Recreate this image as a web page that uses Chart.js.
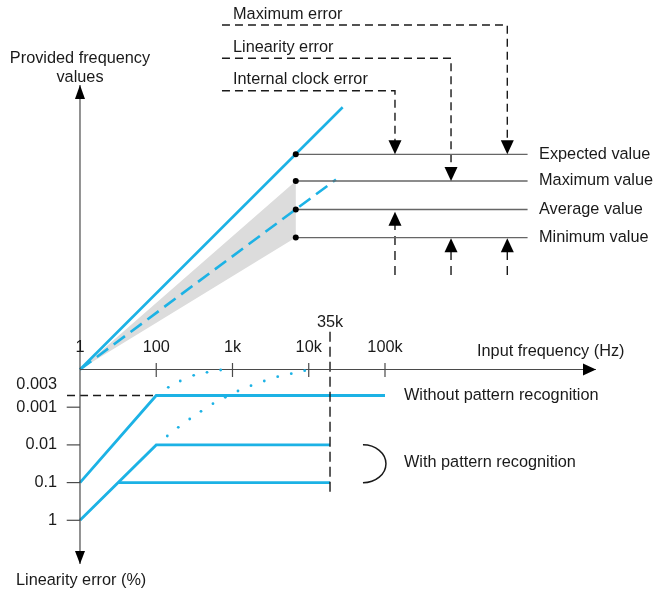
<!DOCTYPE html>
<html>
<head>
<meta charset="utf-8">
<script src="https://cdn.jsdelivr.net/npm/chart.js@4.4.1/dist/chart.umd.min.js"></script>
<style>
  html, body { margin: 0; padding: 0; background: #fff; }
  canvas { display: block; }
</style>
</head>
<body>
<canvas id="diagram" width="655" height="592"></canvas>
<script>
// x: schematic decades of input frequency (1 Hz = 0, 100 Hz = 1, 1k = 2, 10k = 3, 100k = 4)
// y: above 0 = provided frequency, below 0 = linearity error decades (0.001 % = -1 ... 1 % = -4)
const freqLabels = ['1', '100', '1k', '10k', '100k'];
const freqPos = [0, 1, 2, 3, 4];
const maxFreqPos = 3.279; // 35k
const errLabels = ['0.001', '0.01', '0.1', '1'];
const errPos = [-1, -2, -3, -4];
const err0003 = -0.69;

const idealLine = [[0, 0], [3.445, 6.955]];
const measuredLine = [[0, 0], [3.357, 5.04]];
const spreadBand = [[0, 0], [2.83, 5.0], [2.83, 3.5], [0, 0]];
const valueNames = ['Expected value', 'Maximum value', 'Average value', 'Minimum value'];
const valueLevels = [5.708, 5.0, 4.244, 3.5];
const valueX = 2.83;
const valueLineEnd = 5.87;

const errorNames = ['Maximum error', 'Linearity error', 'Internal clock error'];
const errorRowY = [9.138, 8.255, 7.395];
const errorArrowX = [5.604, 4.866, 4.131];
const errorTopTip = [5.708, 5.0, 5.708];
const errorBottomTip = [3.48, 3.48, 4.186];
const leaderStartX = 1.862;
const leaderBottomY = 2.507;

const withoutPattern = [[0, -3], [1, err0003], [4, err0003]];
const withPatternA = [[0, -4], [1, -2], [maxFreqPos, -2]];
const withPatternB = [[0.5, -3], [maxFreqPos, -3]];
const dotsUpper = [[1.158, -0.472], [1.315, -0.305], [1.491, -0.154], [1.666, -0.074], [1.845, -0.013]];
const dotsLower = [[1.145, -1.764], [1.289, -1.533], [1.439, -1.313], [1.587, -1.109], [1.744, -0.907],
  [1.906, -0.737], [2.072, -0.570], [2.243, -0.430], [2.417, -0.305], [2.593, -0.191], [2.771, -0.111], [2.947, -0.032]];

const BLUE = '#1cb2e5';
const INK = '#1a1a1a';
const AXIS = '#4a4a4a';
const FONT = '16.3px "Liberation Sans", Arial, sans-serif';

const pts = arr => arr.map(p => ({ x: p[0], y: p[1] }));

function lineSet(data, color, width, dash, order) {
  return {
    data: pts(data), showLine: true, borderColor: color, borderWidth: width,
    borderDash: dash || [], pointRadius: 0, fill: false, tension: 0, order: order || 0
  };
}

const datasets = [];

// gray spread band
datasets.push({
  data: pts(spreadBand), showLine: true, borderWidth: 0, borderColor: 'rgba(0,0,0,0)',
  backgroundColor: '#dcdcdc', fill: 'shape', pointRadius: 0, order: 10
});

// axes
datasets.push(lineSet([[0, -5.159], [0, 7.546]], AXIS, 1.2));
datasets.push(lineSet([[0, 0], [6.767, 0]], AXIS, 1.2));
freqPos.slice(1).forEach(x => datasets.push(lineSet([[x, 0.172], [x, -0.199]], AXIS, 1.2)));
errPos.forEach(y => datasets.push(lineSet([[-0.174, y], [0, y]], AXIS, 1.2)));
datasets.push(lineSet([[maxFreqPos, 1.003], [maxFreqPos, -3.329]], INK, 1.4, [10, 5]));
datasets.push(lineSet([[-0.17, err0003], [1, err0003]], INK, 1.4, [8, 5]));

// provided frequency lines
datasets.push(lineSet(idealLine, BLUE, 2.6, null, 1));
datasets.push(lineSet(measuredLine, BLUE, 2.6, [14, 7], 1));
valueLevels.forEach(y => datasets.push(lineSet([[valueX, y], [valueLineEnd, y]], '#666', 1.3)));

// error leaders
errorArrowX.forEach((x, i) => {
  datasets.push(lineSet([[leaderStartX, errorRowY[i]], [x, errorRowY[i]], [x, errorTopTip[i] + 0.3]], INK, 1.4, [8, 5]));
  datasets.push(lineSet([[x, leaderBottomY], [x, errorBottomTip[i] - 0.3]], INK, 1.4, [9, 6]));
});

// linearity error curves
datasets.push(lineSet(withoutPattern, BLUE, 2.8));
datasets.push(lineSet(withPatternA, BLUE, 2.8));
datasets.push(lineSet(withPatternB, BLUE, 2.8));
[dotsUpper, dotsLower].forEach(d => datasets.push({
  data: pts(d), showLine: false, pointRadius: 1.4, pointBackgroundColor: BLUE, pointBorderWidth: 0, order: -1
}));

// value dots
datasets.push({
  data: valueLevels.map(y => ({ x: valueX, y: y })), showLine: false,
  pointRadius: 3, pointBackgroundColor: '#000', pointBorderWidth: 0, order: -2
});

function arrowHead(ctx, px, py, dir, len, half) {
  ctx.beginPath();
  if (dir === 'down') { ctx.moveTo(px, py); ctx.lineTo(px - half, py - len); ctx.lineTo(px + half, py - len); }
  if (dir === 'up') { ctx.moveTo(px, py); ctx.lineTo(px - half, py + len); ctx.lineTo(px + half, py + len); }
  if (dir === 'right') { ctx.moveTo(px, py); ctx.lineTo(px - len, py - half); ctx.lineTo(px - len, py + half); }
  ctx.closePath();
  ctx.fill();
}

const decorPlugin = {
  id: 'decor',
  afterDatasetsDraw(chart) {
    const ctx = chart.ctx;
    const sx = chart.scales.x, sy = chart.scales.y;
    const X = v => sx.getPixelForValue(v), Y = v => sy.getPixelForValue(v);
    ctx.save();
    ctx.fillStyle = '#000';
    arrowHead(ctx, X(6.767), Y(0), 'right', 13, 6);
    arrowHead(ctx, X(0), Y(7.546), 'up', 14, 5);
    arrowHead(ctx, X(0), Y(-5.159), 'down', 13, 5);
    errorArrowX.forEach((x, i) => {
      arrowHead(ctx, X(x), Y(errorTopTip[i]), 'down', 14, 6.5);
      arrowHead(ctx, X(x), Y(errorBottomTip[i]), 'up', 14, 6.5);
    });

    // bracket for "with pattern recognition"
    ctx.strokeStyle = INK;
    ctx.lineWidth = 1.5;
    ctx.beginPath();
    ctx.ellipse(X(3.711), Y(-2.5), 23, 19, 0, -Math.PI / 2, Math.PI / 2);
    ctx.stroke();

    ctx.fillStyle = INK;
    ctx.font = FONT;
    ctx.textBaseline = 'middle';
    ctx.textAlign = 'center';
    freqLabels.forEach((t, i) => ctx.fillText(t, X(freqPos[i]), Y(0.584)));
    ctx.fillText('35k', X(maxFreqPos), Y(1.241));
    ctx.fillText('Provided frequency', X(0), Y(8.255));
    ctx.fillText('values', X(0), Y(7.751));

    ctx.textAlign = 'right';
    errLabels.forEach((t, i) => ctx.fillText(t, X(-0.3), Y(errPos[i])));
    ctx.fillText('0.003', X(-0.3), Y(-0.385));

    ctx.textAlign = 'left';
    ctx.fillText('Input frequency (Hz)', X(5.207), Y(0.464));
    ctx.fillText('Linearity error (%)', X(-0.839), Y(-5.584));
    ctx.fillText('Without pattern recognition', X(4.249), Y(err0003));
    ctx.fillText('With pattern recognition', X(4.249), Y(-2.48));
    valueNames.forEach((t, i) => ctx.fillText(t, X(6.02), Y(valueLevels[i])));
    const errorLabelY = [9.411, 8.536, 7.679];
    errorNames.forEach((t, i) => ctx.fillText(t, X(2.007), Y(errorLabelY[i])));
    ctx.restore();
  }
};

new Chart(document.getElementById('diagram'), {
  type: 'scatter',
  data: { datasets: datasets },
  options: {
    responsive: false,
    animation: false,
    events: [],
    layout: { padding: 0, autoPadding: false },
    plugins: { legend: { display: false }, tooltip: { enabled: false } },
    scales: {
      x: { type: 'linear', min: -1.049, max: 7.541, display: false },
      y: { type: 'linear', min: -5.902, max: 9.801, display: false }
    }
  },
  plugins: [decorPlugin]
});
</script>
</body>
</html>
